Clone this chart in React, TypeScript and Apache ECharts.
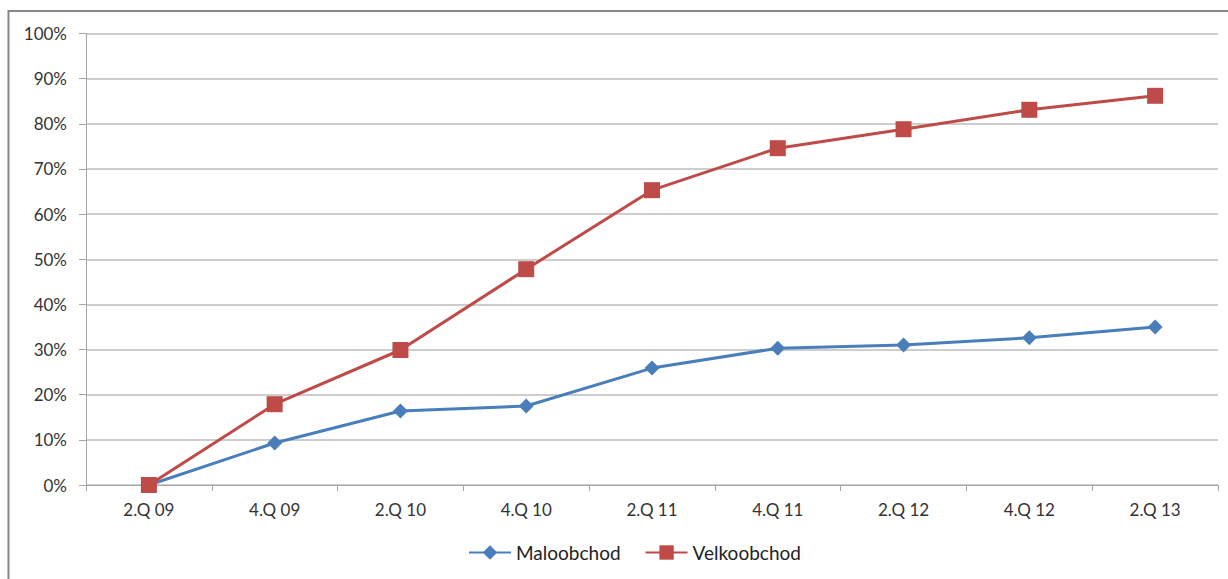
import React, { useEffect, useRef } from "react";
import * as echarts from "echarts";

const categories = ["2.Q 09", "4.Q 09", "2.Q 10", "4.Q 10", "2.Q 11", "4.Q 11", "2.Q 12", "4.Q 12", "2.Q 13"];
const maloobchod = [0, 9.3, 16.4, 17.5, 25.9, 30.3, 31.0, 32.6, 35.0];
const velkoobchod = [0, 17.9, 29.9, 47.8, 65.3, 74.6, 78.8, 83.1, 86.2];

export default function App() {
  const ref = useRef<HTMLDivElement>(null);
  useEffect(() => {
    const chart = echarts.init(ref.current!, null, { renderer: "svg" });
    const font = "Lato, 'Open Sans', sans-serif";
    chart.setOption({
      animation: false,
      backgroundColor: "#ffffff",
      graphic: [
        {
          type: "rect",
          shape: { x: 8.5, y: 11, width: 1240, height: 600 },
          style: { fill: "none", stroke: "#868686", lineWidth: 2 },
          silent: true,
        },
      ],
      grid: { left: 86, right: 10, top: 33.5, bottom: 94 },
      legend: {
        bottom: 12,
        left: 463,
        itemWidth: 42,
        itemHeight: 18,
        itemGap: 24,
        textStyle: { fontFamily: font, fontSize: 19, color: "#222" },
        data: ["Maloobchod", "Velkoobchod"],
      },
      xAxis: {
        type: "category",
        data: categories,
        boundaryGap: true,
        axisLine: { lineStyle: { color: "#a6a6a6", width: 1 } },
        axisTick: { show: true, alignWithLabel: false, length: 6, lineStyle: { color: "#a6a6a6" } },
        axisLabel: { fontFamily: font, fontSize: 17, color: "#333", margin: 16 },
        splitLine: { show: false },
      },
      yAxis: {
        type: "value",
        min: 0,
        max: 100,
        interval: 10,
        axisLine: { show: true, lineStyle: { color: "#a6a6a6", width: 1 } },
        axisTick: { show: true, length: 7, lineStyle: { color: "#a6a6a6" } },
        axisLabel: { fontFamily: font, fontSize: 17, color: "#333", margin: 19, formatter: "{value}%" },
        splitLine: { show: true, lineStyle: { color: "#bdbdbd", width: 1.5 } },
      },
      series: [
        {
          name: "Maloobchod",
          type: "line",
          data: maloobchod,
          color: "#4a7ebb",
          symbol: "diamond",
          symbolSize: 15,
          lineStyle: { width: 3, color: "#4a7ebb" },
          itemStyle: { color: "#4a7ebb" },
          z: 3,
        },
        {
          name: "Velkoobchod",
          type: "line",
          data: velkoobchod,
          color: "#be4b48",
          symbol: "rect",
          symbolSize: 16,
          lineStyle: { width: 3, color: "#be4b48" },
          itemStyle: { color: "#be4b48" },
          z: 4,
        },
      ],
    });
    return () => chart.dispose();
  }, []);
  return <div ref={ref} style={{ position: "fixed", left: 0, top: 0, width: 1228, height: 579 }} />;
}
